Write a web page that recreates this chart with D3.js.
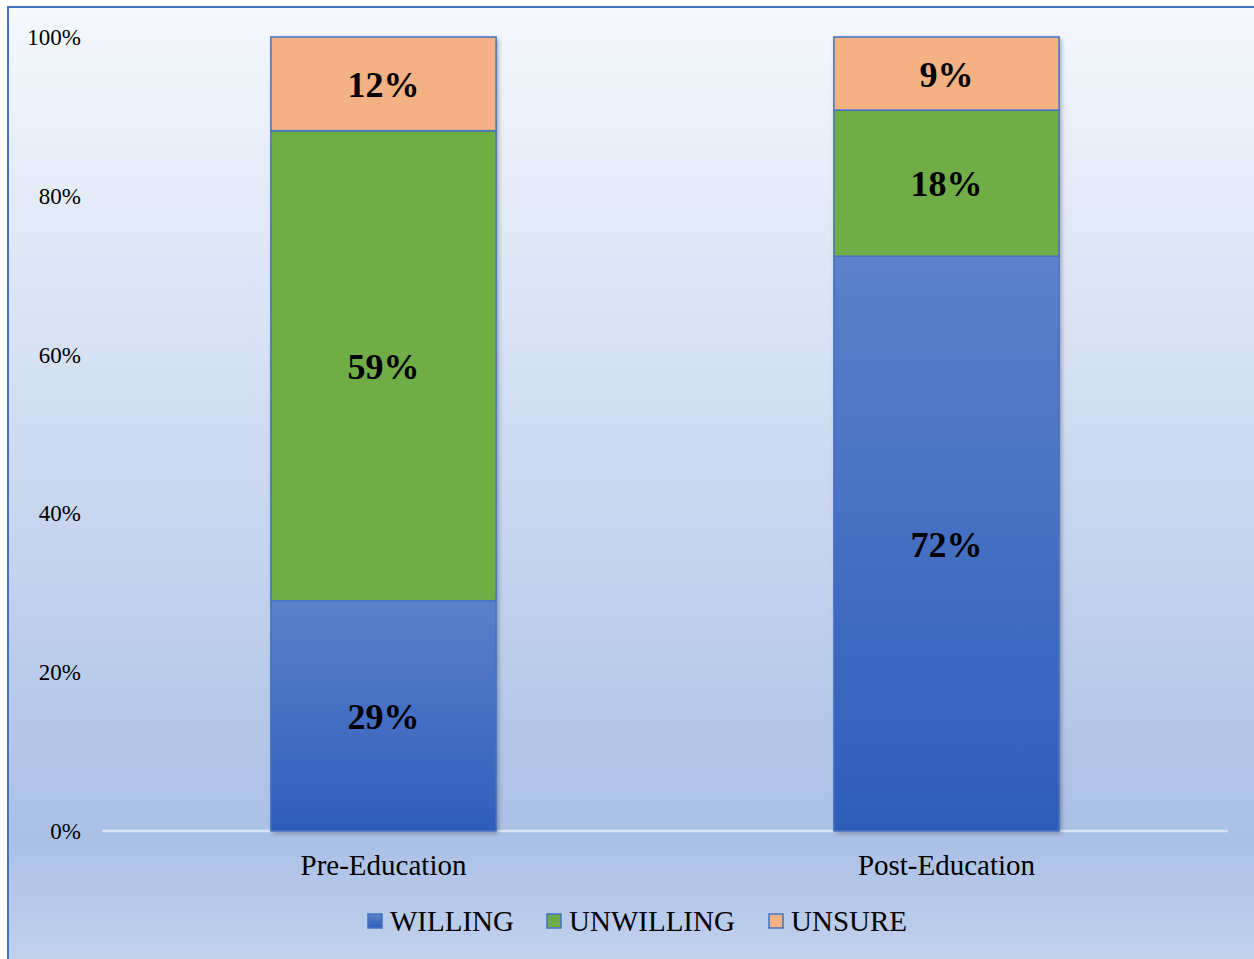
<!DOCTYPE html>
<html>
<head>
<meta charset="utf-8">
<script src="https://cdn.jsdelivr.net/npm/d3@7"></script>
<style>
html,body{margin:0;padding:0;background:#fff;}
svg{display:block;}
text{font-family:"Liberation Serif","Times New Roman",serif;}
</style>
</head>
<body>
<svg id="chart" width="1254" height="959"></svg>
<script>
const categories = ["Pre-Education", "Post-Education"];
const seriesNames = ["WILLING", "UNWILLING", "UNSURE"];
const willing = [29.0, 72.4];
const unwilling = [59.2, 18.4];
const unsure = [11.8, 9.2];
const yTicks = [0, 20, 40, 60, 80, 100];

const W = 1254, H = 959;
const svg = d3.select("#chart");
const defs = svg.append("defs");

const bg = defs.append("linearGradient").attr("id","bg").attr("x1",0).attr("y1",0).attr("x2",0).attr("y2",1);
bg.append("stop").attr("offset","0%").attr("stop-color","#f5f8fd");
bg.append("stop").attr("offset","86%").attr("stop-color","#abc0e6");
bg.append("stop").attr("offset","100%").attr("stop-color","#c4d4ee");

const gBlue = defs.append("linearGradient").attr("id","gBlue").attr("x1",0).attr("y1",0).attr("x2",0).attr("y2",1);
gBlue.append("stop").attr("offset","0%").attr("stop-color","#5c81ca");
gBlue.append("stop").attr("offset","100%").attr("stop-color","#2e5dbb");

const shadow = defs.append("filter").attr("id","shadow").attr("x","-10%").attr("y","-10%").attr("width","120%").attr("height","120%");
shadow.append("feDropShadow").attr("dx",2).attr("dy",2).attr("stdDeviation",2.5).attr("flood-color","#000").attr("flood-opacity",0.35);

svg.append("rect").attr("x",8).attr("y",7).attr("width",W+10).attr("height",H+10)
  .attr("fill","url(#bg)").attr("stroke","#4472c4").attr("stroke-width",2);

const x = d3.scaleBand().domain(categories).range([102, 1228]).paddingInner(0.6).paddingOuter(0.3);
const y = d3.scaleLinear().domain([0, 100]).range([831, 37]);

const colors = {WILLING:"url(#gBlue)", UNWILLING:"#70ad47", UNSURE:"#f4b183"};
const legendColors = {WILLING:"#4a72c6", UNWILLING:"#70ad47", UNSURE:"#f4b183"};

const table = categories.map((c,i)=>({cat:c, WILLING:willing[i], UNWILLING:unwilling[i], UNSURE:unsure[i]}));
const stacked = d3.stack().keys(seriesNames)(table);

// y tick labels
svg.append("g").selectAll("text").data(yTicks).join("text")
  .attr("x", 81).attr("y", d=>y(d)).attr("dy","0.35em")
  .attr("text-anchor","end").attr("font-size",23).attr("fill","#000")
  .text(d=>d+"%");

// axis line
svg.append("line").attr("x1",102).attr("x2",1228).attr("y1",y(0)).attr("y2",y(0))
  .attr("stroke","#dbe3f2").attr("stroke-width",2.5);

// bars
const barG = svg.append("g");
barG.selectAll("rect.shadow").data(categories).join("rect")
  .attr("x", d=>x(d)).attr("y", y(100)).attr("width", x.bandwidth()).attr("height", y(0)-y(100))
  .attr("fill","#4472c4").attr("filter","url(#shadow)");

stacked.forEach(layer=>{
  barG.append("g").selectAll("rect").data(layer).join("rect")
    .attr("x", d=>x(d.data.cat)).attr("y", d=>y(d[1]))
    .attr("width", x.bandwidth()).attr("height", d=>y(d[0])-y(d[1]))
    .attr("fill", colors[layer.key]).attr("stroke","#4472c4").attr("stroke-width",1.5);
});

// data labels
stacked.forEach(layer=>{
  svg.append("g").selectAll("text").data(layer).join("text")
    .attr("x", d=>x(d.data.cat)+x.bandwidth()/2)
    .attr("y", d=>(y(d[0])+y(d[1]))/2).attr("dy","0.37em")
    .attr("text-anchor","middle").attr("font-size",36).attr("font-weight","bold").attr("fill","#000")
    .text(d=>Math.round(d[1]-d[0])+"%");
});

// category labels
svg.append("g").selectAll("text").data(categories).join("text")
  .attr("x", d=>x(d)+x.bandwidth()/2).attr("y", 865).attr("dy","0.35em")
  .attr("text-anchor","middle").attr("font-size",29).attr("fill","#000")
  .text(d=>d);

// legend
const legendX = [368, 547, 769];
const lg = svg.append("g").selectAll("g").data(seriesNames).join("g")
  .attr("transform",(d,i)=>`translate(${legendX[i]},921)`);
lg.append("rect").attr("x",0).attr("y",-7).attr("width",14).attr("height",14)
  .attr("fill",d=>d==="WILLING"?"url(#gBlue)":legendColors[d]).attr("stroke","#4472c4").attr("stroke-width",1.5);
lg.append("text").attr("x",22).attr("y",0).attr("dy","0.35em")
  .attr("font-size",29).attr("fill","#000").text(d=>d);
</script>
</body>
</html>
